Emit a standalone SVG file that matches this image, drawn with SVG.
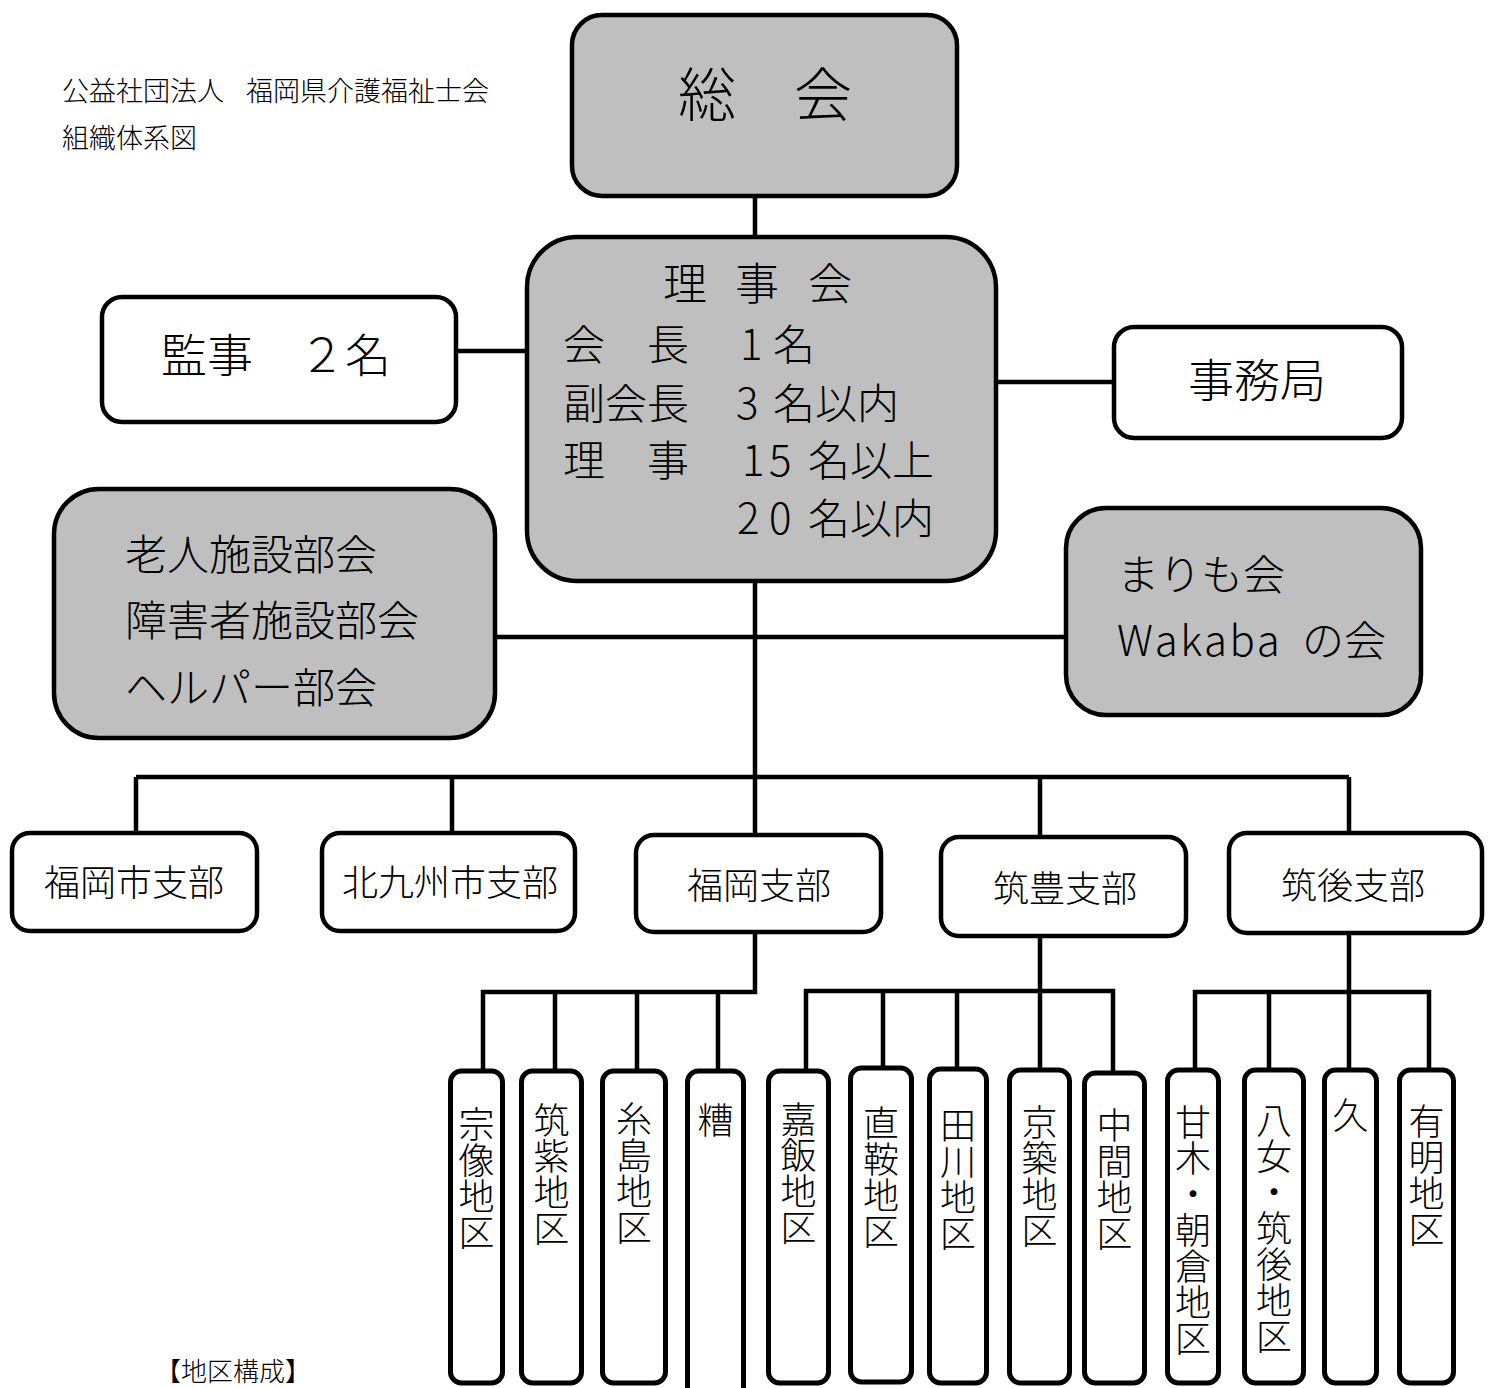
<svg xmlns="http://www.w3.org/2000/svg" width="1494" height="1388" viewBox="0 0 1494 1388">
<style>
text{font-family:"Noto Sans CJK JP","Noto Sans CJK SC",sans-serif;font-weight:300;fill:#000}
.box{fill:#fff;stroke:#000;stroke-width:4.5}
.grey{fill:#bfbfbf}
.leaf{fill:#fff;stroke:#000;stroke-width:5}
.ln{stroke:#000;stroke-width:4.5;fill:none}
.t42{font-size:42px}
.t36{font-size:36px}
.c{text-anchor:middle}
.v{font-size:36px;writing-mode:vertical-rl;text-anchor:start}
</style>
<rect width="1494" height="1388" fill="#fff"/>
<g id="title">
<text font-size="27" y="101"><tspan x="62">公益社団法人</tspan><tspan x="246">福岡県介護福祉士会</tspan></text>
<text font-size="27" x="62" y="148">組織体系図</text>
</g>
<g id="connectors">
<path class="ln" d="M755 196V238M755 581V836M458 351H527M996 382H1114M495 637H1066"/>
<path class="ln" d="M136 777H1349M136 777V834M452 777V834M1040 777V838M1349 777V834"/>
<path class="ln" d="M755 930V992H483V1071M555 992V1071M637 992V1071M718 992V1071"/>
<path class="ln" d="M1040 934V1070M806 1071V991H1113V1073M883 991V1068M957 991V1069"/>
<path class="ln" d="M1349 932V1070M1195 1071V992H1429V1070M1269 992V1070"/>
</g>
<g id="soukai">
<rect class="box grey" x="572" y="15" width="385" height="181" rx="30"/>
<text x="765" y="116" font-size="58" class="c">総　会</text>
</g>
<g id="rijikai">
<rect class="box grey" x="527" y="237" width="469" height="344" rx="50"/>
<text font-size="44" y="300"><tspan x="663">理</tspan><tspan x="735">事</tspan><tspan x="808">会</tspan></text>
<text class="t42" y="360"><tspan x="563">会</tspan><tspan x="647">長</tspan><tspan x="740">1</tspan><tspan x="773">名</tspan></text>
<text class="t42" y="419"><tspan x="563">副会長</tspan><tspan x="736">3</tspan><tspan x="773">名以内</tspan></text>
<text class="t42" y="476"><tspan x="563">理</tspan><tspan x="647">事</tspan><tspan x="742">1</tspan><tspan x="769">5</tspan><tspan x="808">名以上</tspan></text>
<text class="t42" y="534"><tspan x="737">2</tspan><tspan x="769">0</tspan><tspan x="808">名以内</tspan></text>
</g>
<g id="kanji">
<rect class="box" x="102" y="297" width="354" height="125" rx="20"/>
<text x="161" y="372" font-size="46">監事　２名</text>
</g>
<g id="jimukyoku">
<rect class="box" x="1114" y="327" width="288" height="111" rx="20"/>
<text x="1257" y="397" font-size="46" class="c">事務局</text>
</g>
<g id="bukai">
<rect class="box grey" x="54" y="489" width="441" height="249" rx="45"/>
<text class="t42" x="125" y="570">老人施設部会</text>
<text class="t42" x="125" y="636">障害者施設部会</text>
<text class="t42" x="125" y="703">ヘルパー部会</text>
</g>
<g id="marimo">
<rect class="box grey" x="1066" y="508" width="355" height="207" rx="40"/>
<text class="t42" x="1117" y="590">まりも会</text>
<text class="t42" y="656"><tspan x="1117" letter-spacing="2.5">Wakaba</tspan><tspan x="1302">の会</tspan></text>
</g>
<g id="fukuokashi">
<rect class="box" x="12" y="833" width="245" height="98" rx="18"/>
<text class="t36 c" x="134" y="896">福岡市支部</text>
</g>
<g id="kitakyushu">
<rect class="box" x="322" y="833" width="253" height="98" rx="18"/>
<text class="t36 c" x="450" y="896">北九州市支部</text>
</g>
<g id="fukuoka">
<rect class="box" x="636" y="835" width="245" height="97" rx="18"/>
<text class="t36 c" x="759" y="899">福岡支部</text>
</g>
<g id="chikuho">
<rect class="box" x="941" y="837" width="245" height="99" rx="18"/>
<text class="t36 c" x="1065" y="902">筑豊支部</text>
</g>
<g id="chikugo">
<rect class="box" x="1229" y="833" width="253" height="100" rx="18"/>
<text class="t36 c" x="1353" y="899">筑後支部</text>
</g>
<g id="munakata"><rect class="leaf" x="450.5" y="1071" width="52" height="312" rx="11"/><text class="v" x="476.5" y="1106">宗像地区</text></g>
<g id="chikushi"><rect class="leaf" x="521.5" y="1071" width="60" height="312" rx="11"/><text class="v" x="551.5" y="1102">筑紫地区</text></g>
<g id="itoshima"><rect class="leaf" x="602.5" y="1071" width="63" height="312" rx="11"/><text class="v" x="634" y="1101">糸島地区</text></g>
<g id="kasuya"><rect class="leaf" x="687.5" y="1071" width="56" height="330" rx="11"/><text class="v" x="715.5" y="1102">糟</text></g>
<g id="kahan"><rect class="leaf" x="768.5" y="1071" width="60" height="312" rx="11"/><text class="v" x="798.5" y="1101">嘉飯地区</text></g>
<g id="chokuan"><rect class="leaf" x="850.5" y="1068" width="61" height="314" rx="11"/><text class="v" x="881" y="1105">直鞍地区</text></g>
<g id="tagawa"><rect class="leaf" x="929.5" y="1069" width="57" height="314" rx="11"/><text class="v" x="958" y="1107">田川地区</text></g>
<g id="keichiku"><rect class="leaf" x="1009.5" y="1070" width="60" height="313" rx="11"/><text class="v" x="1039.5" y="1104">京築地区</text></g>
<g id="nakama"><rect class="leaf" x="1084.5" y="1073" width="60" height="310" rx="11"/><text class="v" x="1114.5" y="1107">中間地区</text></g>
<g id="amagi"><rect class="leaf" x="1167.5" y="1070" width="51" height="313" rx="11"/><text class="v" x="1193" y="1104">甘木・朝倉地区</text></g>
<g id="yame"><rect class="leaf" x="1244.5" y="1070" width="59" height="313" rx="11"/><text class="v" x="1274" y="1102">八女・筑後地区</text></g>
<g id="ku"><rect class="leaf" x="1324.5" y="1070" width="52" height="313" rx="11"/><text class="v" x="1350.5" y="1097">久</text></g>
<g id="ariake"><rect class="leaf" x="1399.5" y="1070" width="54" height="313" rx="11"/><text class="v" x="1426.5" y="1103">有明地区</text></g>
<g id="caption">
<text font-size="26" x="155" y="1381">【地区構成】</text>
</g>
</svg>
